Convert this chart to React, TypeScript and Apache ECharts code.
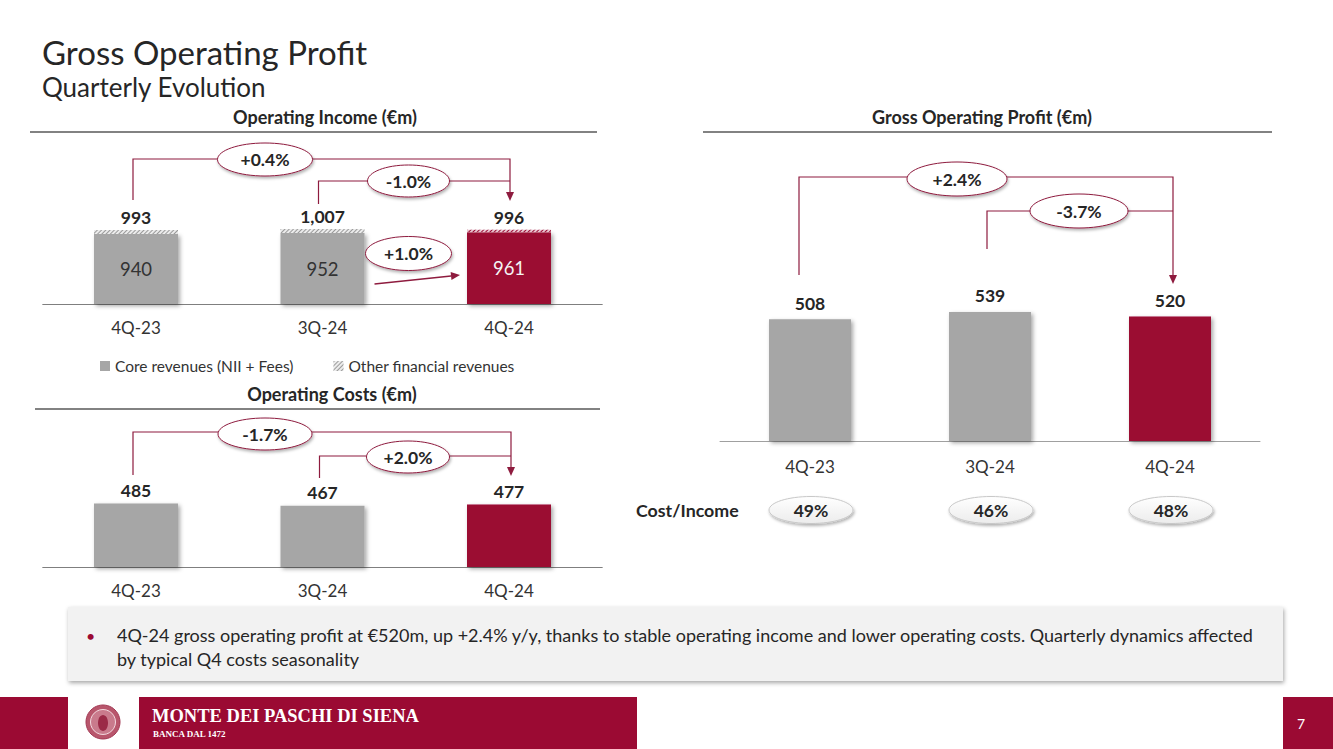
import React, { useEffect, useRef } from "react";
import * as echarts from "echarts";

const quarters = ["4Q-23", "3Q-24", "4Q-24"];
const coreRevenues = [940, 952, 961];
const operatingIncome = [993, 1007, 996];
const operatingCosts = [485, 467, 477];
const grossOperatingProfit = [508, 539, 520];
const costIncomeRatios = ["49%", "46%", "48%"];
const incomeChanges = ["+0.4%", "-1.0%", "+1.0%"];
const costChanges = ["-1.7%", "+2.0%"];
const gopChanges = ["+2.4%", "-3.7%"];
const otherRevenues = operatingIncome.map((t, i) => t - coreRevenues[i]);

const MAROON = "#9B0A33";
const LINE = "#8E1B3E";
const GREY = "#A6A6A6";
const TXT = "#262626";
const FONT = "Lato, 'Noto Sans', sans-serif";
const SERIF = "'Liberation Serif', 'DejaVu Serif', serif";

const barShadow = {
  shadowBlur: 4,
  shadowColor: "rgba(0,0,0,0.35)",
  shadowOffsetX: 2,
  shadowOffsetY: 2,
};

function hatch(color: string) {
  return {
    symbol: "rect",
    symbolSize: 1,
    dashArrayX: [1, 0],
    dashArrayY: [1, 2],
    rotation: -Math.PI / 4,
    color,
  };
}

function catAxis(gridIndex: number, margin: number, lineColor: string) {
  return {
    type: "category",
    gridIndex,
    data: quarters,
    axisLine: { lineStyle: { color: lineColor, width: 1 } },
    axisTick: { show: false },
    axisLabel: { fontSize: 17, color: "#333", margin, fontFamily: FONT },
  };
}

function valAxis(gridIndex: number, max: number) {
  return { type: "value", gridIndex, min: 0, max, show: false, splitLine: { show: false } };
}

function centered(text: string, x: number, y: number, font: string, fill = TXT, z = 21) {
  return {
    type: "text",
    x,
    y,
    style: {
      text,
      fill,
      font,
      align: "center",
      verticalAlign: "middle",
      textAlign: "center",
      textVerticalAlign: "middle",
    },
    z,
  };
}

function leftText(text: string, x: number, y: number, font: string, fill = TXT) {
  return {
    type: "text",
    x,
    y,
    style: { text, fill, font, verticalAlign: "middle", textVerticalAlign: "middle" },
    z: 21,
  };
}

function bubble(cx: number, cy: number, rx: number, ry: number, text: string, stroke: string, out: any[]) {
  out.push({
    type: "ellipse",
    shape: { cx, cy, rx, ry },
    style: {
      fill: "#fff",
      stroke,
      lineWidth: 1,
      shadowBlur: 3,
      shadowColor: "rgba(0,0,0,0.3)",
      shadowOffsetX: 1,
      shadowOffsetY: 2,
    },
    z: 20,
  });
  out.push(centered(text, cx, cy, `bold 17.5px ${FONT}`));
}

function bracket(x1: number, y1: number, x2: number, yTop: number, arrowTip: number | null, out: any[]) {
  const pts: number[][] = [
    [x1, y1],
    [x1, yTop],
    [x2, yTop],
  ];
  if (arrowTip !== null) pts.push([x2, arrowTip - 8]);
  out.push({
    type: "polyline",
    shape: { points: pts },
    style: { stroke: LINE, lineWidth: 1.2, fill: null },
    z: 15,
  });
  if (arrowTip !== null) {
    out.push({
      type: "polygon",
      shape: {
        points: [
          [x2 - 4, arrowTip - 9],
          [x2 + 4, arrowTip - 9],
          [x2, arrowTip],
        ],
      },
      style: { fill: LINE },
      z: 15,
    });
  }
}

function header(text: string, cx: number, cy: number, lx1: number, lx2: number, ly: number, out: any[]) {
  out.push(centered(text, cx, cy, `bold 18px ${FONT}`));
  out.push({
    type: "line",
    shape: { x1: lx1, y1: ly, x2: lx2, y2: ly },
    style: { stroke: "#595959", lineWidth: 1.5 },
  });
}

export default function App() {
  const ref = useRef<HTMLDivElement>(null);

  useEffect(() => {
    if (!ref.current) return;
    const chart = echarts.init(ref.current, undefined, { renderer: "svg" });

    const valueLabel = {
      show: true,
      position: "top",
      fontSize: 17.5,
      fontWeight: "bold",
      color: TXT,
      fontFamily: FONT,
    };

    const option: any = {
      animation: false,
      backgroundColor: "#ffffff",
      textStyle: { fontFamily: FONT },
      grid: [
        { left: 42.75, width: 559.5, top: 222, height: 82 },
        { left: 42.75, width: 559.5, top: 488.4, height: 78.6 },
        { left: 720, width: 540, top: 297.3, height: 143.7 },
      ],
      xAxis: [catAxis(0, 15, "#7f7f7f"), catAxis(1, 15, "#7f7f7f"), catAxis(2, 17, "#a0a0a0")],
      yAxis: [valAxis(0, 1100), valAxis(1, 600), valAxis(2, 600)],
      legend: {
        data: ["Core revenues (NII + Fees)", "Other financial revenues"],
        left: 95,
        top: 353,
        icon: "rect",
        itemWidth: 10,
        itemHeight: 10,
        itemGap: 40,
        textStyle: { fontSize: 15.5, color: "#333", fontFamily: FONT },
        itemStyle: { shadowBlur: 0, shadowOffsetX: 0, shadowOffsetY: 0 },
      },
      series: [
        {
          type: "bar",
          name: "Core revenues (NII + Fees)",
          xAxisIndex: 0,
          yAxisIndex: 0,
          stack: "oi",
          barWidth: 84,
          itemStyle: { color: GREY, ...barShadow },
          label: { show: true, position: "inside", fontSize: 18.5, color: "#333", fontFamily: FONT },
          data: coreRevenues.map((v, i) =>
            i === 2 ? { value: v, itemStyle: { color: MAROON }, label: { color: "#f4f4f4" } } : v
          ),
        },
        {
          type: "bar",
          name: "Other financial revenues",
          xAxisIndex: 0,
          yAxisIndex: 0,
          stack: "oi",
          barWidth: 84,
          itemStyle: { color: "#ececec", decal: hatch("#9a9a9a") },
          label: {
            ...valueLabel,
            distance: 3,
            formatter: (p: any) => operatingIncome[p.dataIndex].toLocaleString("en-US"),
          },
          data: otherRevenues.map((v, i) =>
            i === 2 ? { value: v, itemStyle: { color: "#e8c4cf", decal: hatch(MAROON) } } : v
          ),
        },
        {
          type: "bar",
          name: "Operating Costs",
          xAxisIndex: 1,
          yAxisIndex: 1,
          barWidth: 84,
          itemStyle: { color: GREY, ...barShadow },
          label: { ...valueLabel, distance: 4 },
          data: operatingCosts.map((v, i) => (i === 2 ? { value: v, itemStyle: { color: MAROON } } : v)),
        },
        {
          type: "bar",
          name: "Gross Operating Profit",
          xAxisIndex: 2,
          yAxisIndex: 2,
          barWidth: 82,
          itemStyle: { color: GREY, ...barShadow },
          label: { ...valueLabel, distance: 7 },
          data: grossOperatingProfit.map((v, i) =>
            i === 2 ? { value: v, itemStyle: { color: MAROON } } : v
          ),
        },
      ],
    };

    chart.setOption(option);

    const cx = (axis: number, i: number) =>
      chart.convertToPixel({ xAxisIndex: axis } as any, i) as unknown as number;

    const g: any[] = [];

    // Titles
    g.push(leftText("Gross Operating Profit", 42, 52, `33px ${FONT}`));
    g.push(leftText("Quarterly Evolution", 42, 87, `26px ${FONT}`));

    header("Operating Income (€m)", 325, 117, 30, 597, 132, g);
    header("Operating Costs (€m)", 332, 394, 35, 600, 409, g);
    header("Gross Operating Profit (€m)", 982, 117, 703, 1272, 132, g);

    // Operating income annotations
    const a0 = cx(0, 0), a1 = cx(0, 1), a2 = cx(0, 2);
    bracket(a0 - 3, 200, a2 + 1, 159, 201, g);
    bracket(a1 - 4, 204, a2 + 1, 181, null, g);
    bubble(a0 + 129, 159.5, 47.5, 16.5, incomeChanges[0], LINE, g);
    bubble(a1 + 86, 181, 41, 16, incomeChanges[1], LINE, g);
    {
      const x1 = a1 + 52, y1 = 284, x2 = a2 - 49, y2 = 275;
      const dx = x2 - x1, dy = y2 - y1;
      const len = Math.sqrt(dx * dx + dy * dy);
      const ux = dx / len, uy = dy / len;
      const bx = x2 - ux * 9, by = y2 - uy * 9;
      g.push({
        type: "line",
        shape: { x1, y1, x2: bx, y2: by },
        style: { stroke: LINE, lineWidth: 1.5 },
        z: 15,
      });
      g.push({
        type: "polygon",
        shape: {
          points: [
            [bx - uy * 4, by + ux * 4],
            [bx + uy * 4, by - ux * 4],
            [x2, y2],
          ],
        },
        style: { fill: LINE },
        z: 15,
      });
      bubble(a1 + 86, 253.5, 43, 17, incomeChanges[2], LINE, g);
    }

    // Operating costs annotations
    const b0 = cx(1, 0), b1 = cx(1, 1), b2 = cx(1, 2);
    bracket(b0 - 3, 475, b2 + 2, 432, 476, g);
    bracket(b1 - 3, 478, b2 + 2, 456, null, g);
    bubble(b0 + 129, 434, 47, 16, costChanges[0], LINE, g);
    bubble(b1 + 85.5, 457, 41.5, 16, costChanges[1], LINE, g);

    // GOP annotations
    const c0 = cx(2, 0), c1 = cx(2, 1), c2 = cx(2, 2);
    bracket(c0 - 11, 275, c2 + 3, 177, 284, g);
    bracket(c1 - 3, 249, c2 + 3, 211, null, g);
    bubble(c0 + 147, 179, 50, 17, gopChanges[0], LINE, g);
    bubble(c1 + 89, 211, 49, 17, gopChanges[1], LINE, g);

    // Cost / Income
    g.push(leftText("Cost/Income", 636, 510, `bold 17.8px ${FONT}`));
    [c0, c1, c2].forEach((x, i) => {
      g.push({
        type: "ellipse",
        shape: { cx: x + 1, cy: 510, rx: 42, ry: 13.5 },
        style: {
          fill: new echarts.graphic.LinearGradient(0, 0, 0, 1, [
            { offset: 0, color: "#ffffff" },
            { offset: 1, color: "#ececec" },
          ]),
          stroke: "#c8c8c8",
          lineWidth: 1,
          shadowBlur: 3,
          shadowColor: "rgba(0,0,0,0.3)",
          shadowOffsetX: 1,
          shadowOffsetY: 2,
        },
        z: 20,
      });
      g.push(centered(costIncomeRatios[i], x + 1, 510, `bold 17.5px ${FONT}`));
    });

    // Commentary box
    g.push({
      type: "rect",
      shape: { x: 68, y: 607, width: 1215, height: 74 },
      style: {
        fill: "#F2F2F2",
        shadowBlur: 4,
        shadowColor: "rgba(0,0,0,0.35)",
        shadowOffsetX: 1,
        shadowOffsetY: 2,
      },
    });
    g.push(leftText("•", 86, 635, `16px ${FONT}`, MAROON));
    g.push({
      type: "text",
      x: 117,
      y: 623,
      style: {
        text:
          "4Q-24 gross operating profit at €520m, up +2.4% y/y, thanks to stable operating income and lower operating costs. Quarterly dynamics affected\nby typical Q4 costs seasonality",
        fill: TXT,
        font: `18px ${FONT}`,
        lineHeight: 24,
        verticalAlign: "top",
        textVerticalAlign: "top",
      },
      z: 21,
    });

    // Footer
    g.push({ type: "rect", shape: { x: 0, y: 697, width: 637, height: 52 }, style: { fill: MAROON } });
    g.push({ type: "rect", shape: { x: 68, y: 697, width: 71, height: 52 }, style: { fill: "#ffffff" } });
    g.push({
      type: "circle",
      shape: { cx: 103, cy: 722, r: 17 },
      style: { fill: "#B8566C", stroke: "#a33a55", lineWidth: 1 },
    });
    g.push({
      type: "circle",
      shape: { cx: 103, cy: 722, r: 12.5 },
      style: { fill: "#C97A8C", stroke: "#f3d9df", lineWidth: 1 },
    });
    g.push({
      type: "ellipse",
      shape: { cx: 103, cy: 723, rx: 5, ry: 8 },
      style: { fill: "#9B2A47" },
    });
    g.push(leftText("MONTE DEI PASCHI DI SIENA", 152, 716, `bold 18.5px ${SERIF}`, "#ffffff"));
    g.push(leftText("BANCA DAL 1472", 153, 734, `bold 9px ${SERIF}`, "#ffffff"));
    g.push({ type: "rect", shape: { x: 1283, y: 697, width: 50, height: 52 }, style: { fill: MAROON } });
    g.push(centered("7", 1301, 723, `14px ${FONT}`, "#ffffff"));

    chart.setOption({ graphic: { elements: g } });

    return () => chart.dispose();
  }, []);

  return (
    <div
      ref={ref}
      style={{ position: "fixed", left: 0, top: 0, width: 1333, height: 749, background: "#fff" }}
    />
  );
}
